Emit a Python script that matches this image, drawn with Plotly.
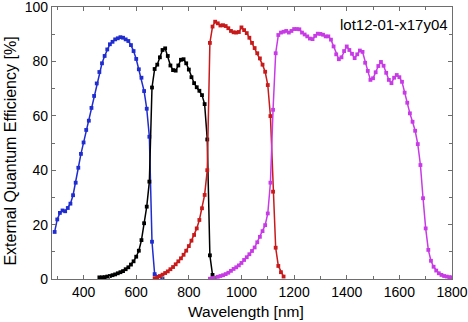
import plotly.graph_objects as go

# Sub-cell EQE spectra (wavelength in nm, EQE in %)
blue_wl = [290, 300, 310, 320, 330, 340, 350, 360, 370, 380, 390, 400, 410, 420,
           430, 440, 450, 460, 470, 480, 490, 500, 510, 520, 530, 540, 550, 560,
           570, 580, 590, 600, 610, 620, 630, 640, 650, 660, 670, 700]
blue_eqe = [17.3, 21.9, 24.3, 25.2, 24.9, 26.1, 27.7, 30.8, 35.4, 40.9, 46.0, 50.2,
            54.8, 58.2, 62.9, 67.3, 71.9, 76.1, 79.3, 82.0, 84.4, 86.3, 87.2, 88.1,
            88.5, 88.9, 88.7, 88.1, 87.5, 86.0, 83.8, 80.9, 77.1, 74.0, 69.1, 62.6,
            52.3, 13.7, 1.8, 0.0]

black_wl = [460, 470, 480, 490, 500, 510, 520, 530, 540, 550, 560, 570, 580, 590,
            600, 610, 620, 630, 640, 650, 660, 670, 680, 690, 700, 710, 720, 730,
            740, 750, 760, 770, 780, 790, 800, 810, 820, 830, 840, 850, 860, 870,
            880, 890, 900]
black_eqe = [0.6, 0.6, 0.7, 0.9, 1.1, 1.4, 1.7, 2.1, 2.5, 2.9, 3.6, 4.3, 5.3, 6.5,
             8.2, 10.4, 14.3, 20.5, 26.6, 35.8, 70.4, 77.2, 78.8, 81.5, 84.2, 84.8,
             82.0, 78.5, 76.8, 76.6, 78.5, 80.6, 80.8, 79.3, 77.0, 74.2, 72.0, 70.5,
             69.2, 67.6, 64.3, 51.3, 8.7, 1.5, 0.3]

red_wl = [670, 680, 690, 700, 710, 720, 730, 740, 750, 760, 770, 780, 790, 800,
          810, 820, 830, 840, 850, 860, 870, 880, 890, 900, 910, 920, 930, 940,
          950, 960, 970, 980, 990, 1000, 1010, 1020, 1030, 1040, 1050, 1060, 1070,
          1080, 1090, 1100, 1110, 1120, 1130, 1140, 1150, 1160]
red_eqe = [0.3, 0.6, 1.1, 1.6, 2.2, 2.8, 3.6, 4.4, 5.4, 6.5, 7.6, 8.9, 10.4, 12.1,
           14.1, 16.2, 18.6, 21.7, 26.0, 30.9, 40.0, 86.8, 92.8, 94.6, 94.0, 93.2,
           93.3, 93.0, 92.2, 91.2, 90.7, 90.6, 90.8, 92.5, 91.5, 90.4, 88.7, 86.8,
           84.9, 83.0, 81.1, 78.8, 76.2, 71.3, 59.9, 32.1, 11.5, 4.8, 2.5, 0.9]

magenta_wl = [880, 890, 900, 910, 920, 930, 940, 950, 960, 970, 980, 990, 1000,
              1010, 1020, 1030, 1040, 1050, 1060, 1070, 1080, 1090, 1100, 1110,
              1120, 1130, 1140, 1150, 1160, 1170, 1180, 1190, 1200, 1210, 1220,
              1230, 1240, 1250, 1260, 1270, 1280, 1290, 1300, 1310, 1320, 1330,
              1340, 1350, 1360, 1370, 1380, 1390, 1400, 1410, 1420, 1430, 1440,
              1450, 1460, 1470, 1480, 1490, 1500, 1510, 1520, 1530, 1540, 1550,
              1560, 1570, 1580, 1590, 1600, 1610, 1620, 1630, 1640, 1650, 1660,
              1670, 1680, 1690, 1700, 1710, 1720, 1730, 1740, 1750, 1760, 1770,
              1780, 1790, 1800]
magenta_eqe = [0.1, 0.3, 0.5, 0.8, 1.1, 1.4, 1.8, 2.3, 3.0, 3.7, 4.3, 5.0, 5.9,
               7.0, 8.0, 9.1, 10.3, 11.6, 13.5, 15.5, 17.6, 19.8, 24.1, 35.4,
               62.2, 83.0, 89.7, 90.6, 90.9, 91.2, 90.6, 91.2, 91.9, 91.9, 91.8,
               90.6, 89.9, 89.2, 88.4, 88.2, 89.4, 90.2, 90.1, 89.8, 89.2, 89.2,
               88.0, 85.5, 82.6, 80.8, 81.5, 83.8, 85.5, 84.2, 82.8, 81.2, 82.6,
               84.0, 83.5, 79.5, 76.5, 73.2, 73.8, 76.0, 78.3, 79.8, 78.4, 75.8,
               73.2, 72.0, 74.0, 75.0, 74.2, 72.5, 68.5, 64.8, 60.9, 57.8, 54.5,
               49.6, 41.9, 29.7, 18.6, 10.7, 6.7, 4.5, 3.1, 2.1, 1.5, 1.1, 0.9,
               0.7, 0.6]

x_tick_vals = [400, 600, 800, 1000, 1200, 1400, 1600, 1800]
y_tick_vals = [0, 20, 40, 60, 80, 100]

series = [
    (blue_wl, blue_eqe, "#1f2ccf"),
    (black_wl, black_eqe, "#000000"),
    (red_wl, red_eqe, "#c81a1a"),
    (magenta_wl, magenta_eqe, "#c83ae6"),
]

fig = go.Figure()
for wl, eqe, color in series:
    fig.add_trace(go.Scatter(
        x=wl, y=eqe, mode="lines+markers",
        line=dict(color=color, width=1.5),
        marker=dict(symbol="square", size=3.8, color=color),
        showlegend=False,
    ))

font = "Liberation Sans, Arial, sans-serif"
axis_common = dict(
    showline=True, linecolor="#6e6e6e", linewidth=1.2, mirror="allticks",
    ticks="inside", ticklen=4, tickwidth=1, tickcolor="#6e6e6e",
    showgrid=False, zeroline=False, automargin=False,
    ticklabeloverflow="allow",
    tickfont=dict(family=font, size=14, color="#000000"),
)

fig.update_xaxes(
    range=[280, 1800], tickvals=x_tick_vals,
    minor=dict(ticks="inside", dtick=100, tick0=0, ticklen=3, tickcolor="#6e6e6e"),
    **axis_common,
)
fig.update_yaxes(
    range=[0, 100], tickvals=y_tick_vals,
    minor=dict(ticks="inside", dtick=10, tick0=0, ticklen=3, tickcolor="#6e6e6e"),
    **axis_common,
)

# Axis titles
fig.add_annotation(
    text="Wavelength [nm]", xref="paper", yref="paper", x=0.484, y=-0.118,
    xanchor="center", yanchor="middle", showarrow=False,
    font=dict(family=font, size=15.5, color="#000000"),
)
fig.add_annotation(
    text="External Quantum Efficiency [%]", xref="paper", yref="paper",
    x=-0.104, y=0.47, xanchor="center", yanchor="middle", showarrow=False,
    textangle=-90, font=dict(family=font, size=16, color="#000000"),
)

fig.add_annotation(
    text="lot12-01-x17y04", xref="paper", yref="paper", x=0.995, y=0.935,
    xanchor="right", yanchor="middle", showarrow=False,
    font=dict(family=font, size=15, color="#000000"),
)

fig.update_layout(
    width=468, height=322,
    margin=dict(l=52, r=16, t=7, b=43),
    paper_bgcolor="white", plot_bgcolor="white",
)

fig.write_html("out.html")
